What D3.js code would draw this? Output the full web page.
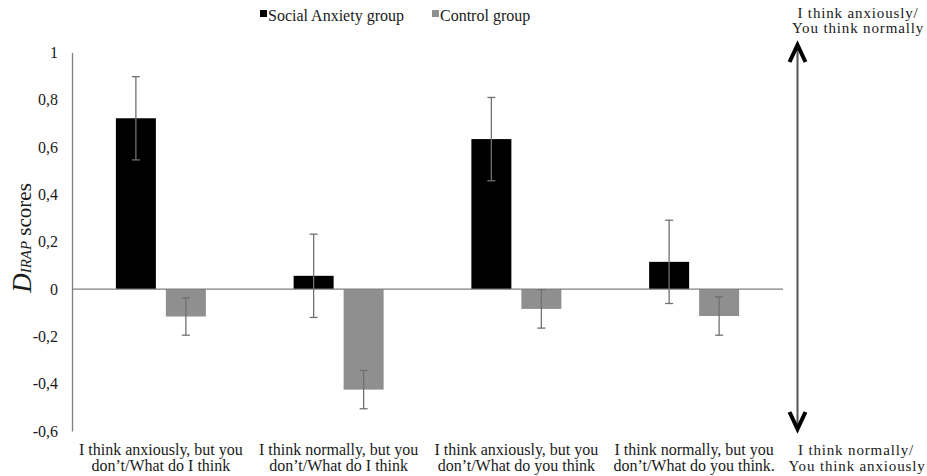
<!DOCTYPE html>
<html>
<head>
<meta charset="utf-8">
<script src="https://cdn.jsdelivr.net/npm/d3@7"></script>
<style>
  html, body { margin: 0; padding: 0; background: #fff; }
  svg text { font-family: "Liberation Serif", "DejaVu Serif", serif !important; }
</style>
</head>
<body>
<svg id="chart" width="927" height="476"></svg>
<script>
const categories = [
  ["I think anxiously, but you", "don\u2019t/What do I think"],
  ["I think normally, but you", "don\u2019t/What do I think"],
  ["I think anxiously, but you", "don\u2019t/What do you think"],
  ["I think normally, but you", "don\u2019t/What do you think."]
];
const seriesNames = ["Social Anxiety group", "Control group"];
const socialValues = [0.722, 0.056, 0.634, 0.115];
const socialErrors = [0.176, 0.176, 0.176, 0.176];
const controlValues = [-0.116, -0.425, -0.084, -0.114];
const controlErrors = [0.079, 0.081, 0.081, 0.081];
const yTicks = [1, 0.8, 0.6, 0.4, 0.2, 0, -0.2, -0.4, -0.6];
const topNote = ["I think anxiously/", "You think normally"];
const bottomNote = ["I think normally/", "You think anxiously"];
const colors = ["#000000", "#8f8f8f"];

const FONT = "Liberation Serif, DejaVu Serif, serif";
const svg = d3.select("#chart").attr("font-family", FONT);

const y = d3.scaleLinear().domain([-0.6, 1]).range([431, 52.5]);
const x0 = d3.scaleBand().domain(d3.range(categories.length)).range([72, 783]).paddingInner(0).paddingOuter(0);
const barW = 40, gap = 10;

// y axis
const yAxis = d3.axisLeft(y).tickValues(yTicks).tickSize(0).tickPadding(14)
  .tickFormat(d => String(Math.round(d * 10) / 10).replace(".", ","));
const gy = svg.append("g").attr("transform", "translate(72,0)").call(yAxis).attr("font-family", FONT);
gy.select(".domain").attr("stroke", "#7f7f7f").attr("stroke-width", 1.3);
gy.selectAll("text").attr("font-size", 16).attr("fill", "#1a1a1a");

// bars
const data = [];
categories.forEach((c, i) => {
  data.push({i, s: 0, v: socialValues[i], e: socialErrors[i]});
  data.push({i, s: 1, v: controlValues[i], e: controlErrors[i]});
});
const bx = d => x0(d.i) + x0.bandwidth() / 2 + (d.s === 0 ? -(gap / 2 + barW) : gap / 2);

svg.append("g").selectAll("rect").data(data).join("rect")
  .attr("x", bx)
  .attr("width", barW)
  .attr("y", d => y(Math.max(0, d.v)))
  .attr("height", d => Math.abs(y(d.v) - y(0)))
  .attr("fill", d => colors[d.s]);

// zero line
svg.append("line").attr("x1", 72).attr("x2", 783).attr("y1", y(0)).attr("y2", y(0))
  .attr("stroke", "#7f7f7f").attr("stroke-width", 1.3);

// error bars
const eb = svg.append("g").attr("stroke", "#707070").attr("stroke-width", 1.3);
data.forEach(d => {
  const cx = bx(d) + barW / 2;
  eb.append("line").attr("x1", cx).attr("x2", cx).attr("y1", y(d.v + d.e)).attr("y2", y(d.v - d.e));
  eb.append("line").attr("x1", cx - 4).attr("x2", cx + 4).attr("y1", y(d.v + d.e)).attr("y2", y(d.v + d.e));
  eb.append("line").attr("x1", cx - 4).attr("x2", cx + 4).attr("y1", y(d.v - d.e)).attr("y2", y(d.v - d.e));
});

// category labels
const cl = svg.append("g").attr("font-size", 16).attr("fill", "#1a1a1a").attr("text-anchor", "middle");
categories.forEach((c, i) => {
  const cx = x0(i) + x0.bandwidth() / 2;
  cl.append("text").attr("x", cx).attr("y", 455).text(c[0]);
  cl.append("text").attr("x", cx).attr("y", 471).text(c[1]);
});

// y axis title
const yt = svg.append("text").attr("transform", "translate(31,238) rotate(-90)")
  .attr("text-anchor", "middle").attr("fill", "#1a1a1a");
yt.append("tspan").attr("font-size", 27).attr("font-style", "italic").text("D");
yt.append("tspan").attr("font-size", 15).attr("font-style", "italic").text("IRAP");
yt.append("tspan").attr("font-size", 21).text(" scores");

// legend
const lg = svg.append("g").attr("font-size", 16).attr("fill", "#1a1a1a");
const legendX = [260, 432];
seriesNames.forEach((n, i) => {
  lg.append("rect").attr("x", legendX[i]).attr("y", 10).attr("width", 7).attr("height", 7).attr("fill", colors[i]);
  lg.append("text").attr("x", legendX[i] + 8).attr("y", 21).text(n);
});

// right annotation
const ax = 797.5;
const an = svg.append("g").attr("font-size", 15).attr("fill", "#1a1a1a").attr("text-anchor", "middle")
  .attr("letter-spacing", 0.85);
an.append("text").attr("x", 858).attr("y", 18).text(topNote[0]);
an.append("text").attr("x", 858).attr("y", 33).text(topNote[1]);
an.append("text").attr("x", 856).attr("y", 455).text(bottomNote[0]);
an.append("text").attr("x", 857).attr("y", 471).text(bottomNote[1]);

svg.append("line").attr("x1", ax).attr("x2", ax).attr("y1", 46).attr("y2", 428)
  .attr("stroke", "#555").attr("stroke-width", 2);
svg.append("path").attr("d", `M${ax - 8},${62} L${ax},${45} L${ax + 8},${62}`)
  .attr("fill", "none").attr("stroke", "#000").attr("stroke-width", 4).attr("stroke-linejoin", "miter");
svg.append("path").attr("d", `M${ax - 8},${412} L${ax},${429} L${ax + 8},${412}`)
  .attr("fill", "none").attr("stroke", "#000").attr("stroke-width", 4).attr("stroke-linejoin", "miter");
</script>
</body>
</html>
